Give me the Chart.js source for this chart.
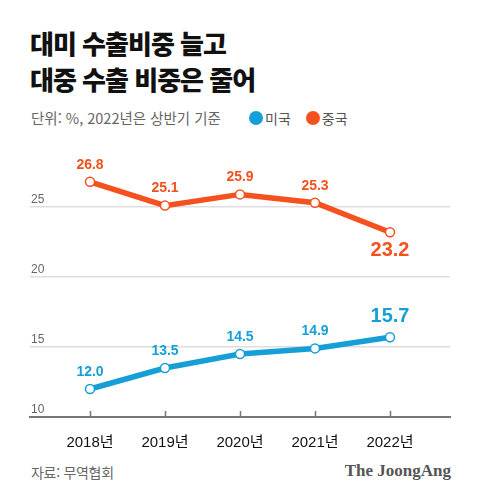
<!DOCTYPE html>
<html lang="ko">
<head>
<meta charset="utf-8">
<script src="https://cdn.jsdelivr.net/npm/chart.js@4.4.1/dist/chart.umd.min.js"></script>
<style>
  html, body { margin: 0; padding: 0; background: #fff; }
  body { width: 480px; height: 500px; position: relative; overflow: hidden;
         font-family: "Noto Sans CJK KR", "Noto Sans", sans-serif; }
  .title { position: absolute; left: 30px; top: 25px; margin: 0;
           font-size: 26px; font-weight: 900; line-height: 36px; letter-spacing: -1px; color: #111; }
  .sub { position: absolute; left: 31px; top: 108px; font-size: 14.5px; color: #666; letter-spacing: 0; line-height: 20px; }
  .legend { position: absolute; left: 249px; top: 108px; font-size: 14px; color: #555; line-height: 20px; display: flex; }
  .legend span { display: flex; align-items: center; margin-right: 15px; }
  .legend i { display: inline-block; width: 14px; height: 14px; border-radius: 50%; margin-right: 2px; }
  .src { position: absolute; left: 31px; top: 462px; font-size: 14px; color: #666; letter-spacing: -0.3px; line-height: 20px; }
  .logo { position: absolute; right: 29px; top: 461px; font-family: "Liberation Serif", serif;
          font-weight: 700; font-size: 17px; color: #555; line-height: 20px; }
  #wrap { position: absolute; left: 0; top: 130px; width: 480px; height: 320px; }
</style>
</head>
<body>
<h1 class="title">대미 수출비중 늘고<br>대중 수출 비중은 줄어</h1>
<div class="sub">단위: %, 2022년은 상반기 기준</div>
<div class="legend">
  <span><i style="background:#169fd6"></i>미국</span>
  <span><i style="background:#f4511e"></i>중국</span>
</div>
<div id="wrap"><canvas id="chart"></canvas></div>
<div class="src">자료: 무역협회</div>
<div class="logo">The JoongAng</div>

<script>
// Data
let years = [2018, 2019, 2020, 2021, 2022]
let usShare = [12.0, 13.5, 14.5, 14.9, 15.7]     // 미국
let chinaShare = [26.8, 25.1, 25.9, 25.3, 23.2]  // 중국
let yTicks = [10, 15, 20, 25]

let blue = '#169fd6'
let orange = '#f4511e'
let numFont = '"Liberation Sans", Arial, sans-serif'

let toPoints = (vals) => years.map((y, i) => ({ x: y, y: vals[i] }))

// Value labels above/below each point, last one bigger
let valueLabels = {
    id: 'valueLabels',
    afterDatasetsDraw(chart) {
        let ctx = chart.ctx
        chart.data.datasets.forEach((ds, di) => {
            let meta = chart.getDatasetMeta(di)
            meta.data.forEach((pt, i) => {
                let last = i === meta.data.length - 1
                let v = ds.data[i].y.toFixed(1)
                ctx.save()
                ctx.fillStyle = ds.borderColor
                ctx.textAlign = 'center'
                ctx.textBaseline = 'middle'
                ctx.font = (last ? 'bold 20px ' : 'bold 14px ') + numFont
                let dy = last ? (ds.labelBelowLast ? 18 : -21) : -17
                ctx.fillText(v, pt.x, pt.y + dy)
                ctx.restore()
            })
        })
    }
}

// Small tick marks going up from the x axis
let upTicks = {
    id: 'upTicks',
    afterDraw(chart) {
        let ctx = chart.ctx
        let xs = chart.scales.x
        let bottom = chart.chartArea.bottom
        ctx.save()
        ctx.strokeStyle = '#777'
        ctx.lineWidth = 1.5
        years.forEach((y) => {
            let px = Math.round(xs.getPixelForValue(y)) + 0.5
            ctx.beginPath()
            ctx.moveTo(px, bottom - 6)
            ctx.lineTo(px, bottom)
            ctx.stroke()
        })
        ctx.restore()
    }
}

new Chart(document.getElementById('chart'), {
    type: 'line',
    data: {
        datasets: [
            {
                label: '중국',
                data: toPoints(chinaShare),
                borderColor: orange,
                labelBelowLast: true
            },
            {
                label: '미국',
                data: toPoints(usShare),
                borderColor: blue
            }
        ].map((ds) => Object.assign({
            borderWidth: 5.5,
            tension: 0,
            pointRadius: 4.5,
            pointBorderWidth: 1.5,
            pointBackgroundColor: '#fff',
            pointBorderColor: ds.borderColor,
            clip: false
        }, ds))
    },
    options: {
        responsive: true,
        maintainAspectRatio: false,
        animation: false,
        layout: { padding: { top: 35, left: 30, right: 30, bottom: 0 } },
        plugins: {
            legend: { display: false },
            tooltip: { enabled: false }
        },
        scales: {
            x: {
                type: 'linear',
                min: 2017.2,
                max: 2022.8,
                afterBuildTicks: (scale) => { scale.ticks = years.map((v) => ({ value: v })) },
                afterFit: (scale) => { scale.height = 33 },
                grid: { display: false },
                border: { display: true, color: '#777', width: 2 },
                ticks: {
                    padding: 9,
                    color: '#111',
                    font: { family: '"Liberation Sans", "Noto Sans CJK KR", sans-serif', size: 15 },
                    callback: (v) => v + '년'
                }
            },
            y: {
                min: 10,
                max: 28,
                afterBuildTicks: (scale) => { scale.ticks = yTicks.map((v) => ({ value: v })) },
                afterFit: (scale) => { scale.width = 0 },
                border: { display: false },
                grid: {
                    drawTicks: false,
                    color: (c) => c.tick && c.tick.value === 10 ? '#777' : '#dedede',
                    lineWidth: (c) => c.tick && c.tick.value === 10 ? 2 : 1.5
                },
                ticks: {
                    mirror: true,
                    padding: 1,
                    labelOffset: -7,
                    color: '#666',
                    font: { family: numFont, size: 12 }
                }
            }
        }
    },
    plugins: [valueLabels, upTicks]
})
</script>
</body>
</html>
